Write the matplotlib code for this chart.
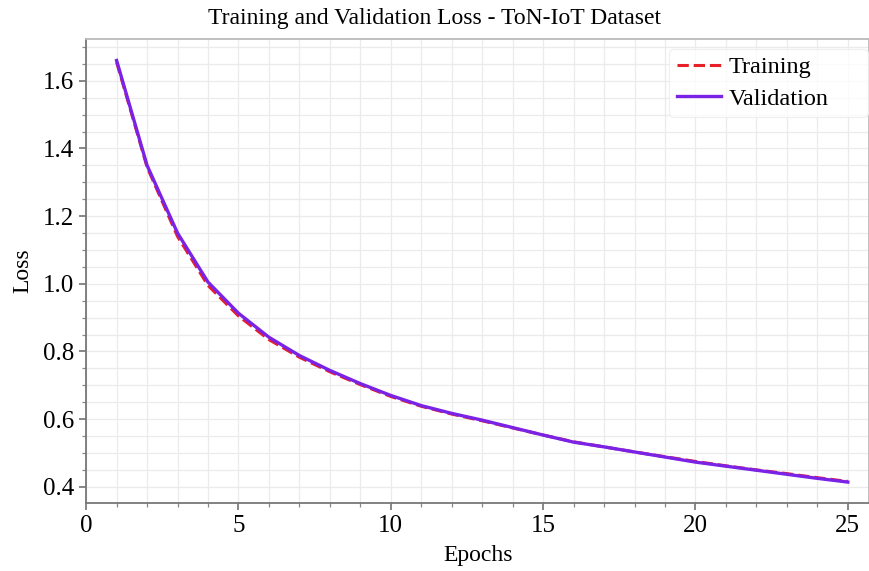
import matplotlib.pyplot as plt
import numpy as np
from matplotlib.ticker import MultipleLocator

epochs = np.arange(1, 26)
train_loss = [1.655, 1.345, 1.140, 0.995, 0.905, 0.835, 0.783, 0.740, 0.702, 0.667,
              0.638, 0.615, 0.595, 0.574, 0.553, 0.533, 0.518, 0.503, 0.489, 0.475,
              0.462, 0.450, 0.439, 0.427, 0.416]
val_loss = [1.660, 1.350, 1.150, 1.005, 0.913, 0.842, 0.788, 0.744, 0.705, 0.670,
            0.640, 0.617, 0.597, 0.575, 0.553, 0.532, 0.518, 0.503, 0.488, 0.473,
            0.461, 0.449, 0.437, 0.425, 0.414]

plt.rcParams['font.family'] = ['Liberation Serif', 'DejaVu Serif']

fig = plt.figure(figsize=(8.7, 5.71), dpi=100)
ax = fig.add_axes([0.099, 0.119, 0.900, 0.813])

ax.plot(epochs, train_loss, '--', color='#e8202a', lw=2.2, label='Training', zorder=3)
ax.plot(epochs, val_loss, '-', color='#7a22e6', lw=2.4, label='Validation', zorder=4)

ax.set_xlim(0, 25.7)
ax.set_ylim(0.352, 1.724)
ax.xaxis.set_major_locator(MultipleLocator(5))
ax.xaxis.set_minor_locator(MultipleLocator(1))
ax.yaxis.set_major_locator(MultipleLocator(0.2))
ax.yaxis.set_minor_locator(MultipleLocator(0.05))
ax.yaxis.set_major_formatter(plt.FormatStrFormatter('%.1f'))

ax.grid(True, which='both', color='#ebebeb', lw=0.9, zorder=0)
ax.set_axisbelow(True)

for side in ['left', 'bottom']:
    ax.spines[side].set_color('#777777')
    ax.spines[side].set_linewidth(1.3)
for side in ['top', 'right']:
    ax.spines[side].set_color('#bbbbbb')
    ax.spines[side].set_linewidth(1.3)

ax.tick_params(which='major', length=5, width=1.1, color='#666666', labelsize=18)
ax.tick_params(which='minor', length=3, width=0.9, color='#888888')

fig.text(0.5, 0.968, 'Training and Validation Loss - ToN-IoT Dataset', fontsize=17,
         ha='center', va='center')
ax.set_xlabel('Epochs', fontsize=17, labelpad=6)
ax.set_ylabel('Loss', fontsize=17, labelpad=7)

# legend box stretched to the right edge like the original
leg = ax.legend(loc='upper left', bbox_to_anchor=(0.745, 0.5, 0.254, 0.478),
                mode='expand', fontsize=17.5, frameon=True, fancybox=True,
                handlelength=1.8, handletextpad=0.35, borderpad=0.3,
                labelspacing=0.38, borderaxespad=0.0)
leg.get_frame().set_edgecolor('#eeeeee')

fig.savefig('out.png', dpi=100)
